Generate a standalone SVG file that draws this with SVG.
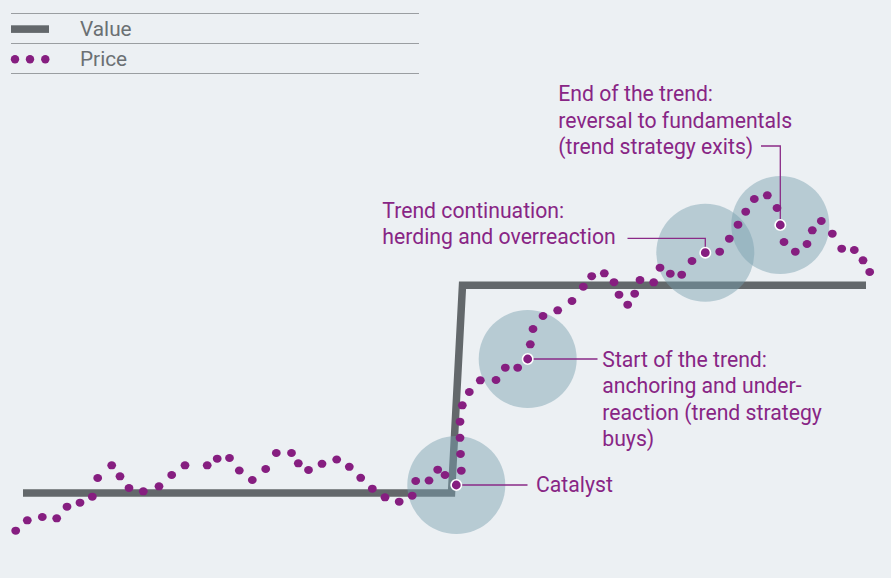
<svg xmlns="http://www.w3.org/2000/svg" width="891" height="578" viewBox="0 0 891 578">
<style>
.bg{fill:#ecf0f3}
.rule{stroke:#9a9ea1;stroke-width:1.2;fill:none}
.lg{font-family:Roboto,"Liberation Sans",sans-serif;font-size:20.8px;fill:#6b7073}
.lbl{font-family:Roboto,"Liberation Sans",sans-serif;font-size:21.2px;fill:#882585}
.value{stroke:#63686b;stroke-width:7.5;fill:none;stroke-linejoin:miter}
.halo{fill:#789faf;fill-opacity:0.46}
.dot{fill:#861e80}
.hl{fill:#861e80;stroke:#ffffff;stroke-width:1.6}
.lead{stroke:#8a2a87;stroke-width:1.3;fill:none}
</style>
<rect class="bg" x="0" y="0" width="891" height="578"/>
<g id="legend">
<line class="rule" x1="11" y1="13.5" x2="419" y2="13.5"/>
<line class="rule" x1="11" y1="43.5" x2="419" y2="43.5"/>
<line class="rule" x1="11" y1="73.5" x2="419" y2="73.5"/>
<rect x="11" y="25.3" width="38" height="7.6" fill="#63686b"/>
<text class="lg" x="80" y="35.7">Value</text>
<circle class="dot" cx="15" cy="59.3" r="4.2"/>
<circle class="dot" cx="30" cy="59.3" r="4.2"/>
<circle class="dot" cx="45.3" cy="59.3" r="4.2"/>
<text class="lg" x="80" y="65.7">Price</text>
</g>
<g id="value-line">
<polyline class="value" points="23,493 451.5,493 462.5,285.3 866,285.3"/>
</g>
<g id="halos">
<circle class="halo" cx="456.3" cy="485" r="49"/>
<circle class="halo" cx="527.7" cy="359" r="49"/>
<circle class="halo" cx="705.3" cy="252.7" r="49"/>
<circle class="halo" cx="780.3" cy="225" r="49"/>
</g>
<g id="connectors">
<polyline class="lead" points="456.3,485 527.5,485"/>
<polyline class="lead" points="527.7,359 597.5,359"/>
<polyline class="lead" points="705.3,252.7 705.3,238.3 627.5,238.3"/>
<polyline class="lead" points="780.3,225 780.3,146 761,146"/>
</g>
<g id="price">
<g id="price-dots">
<ellipse class="dot" cx="15.7" cy="530.7" rx="4.4" ry="4"/>
<ellipse class="dot" cx="27.3" cy="520.3" rx="4.4" ry="4"/>
<ellipse class="dot" cx="42.3" cy="517" rx="4.4" ry="4"/>
<ellipse class="dot" cx="56.7" cy="518.3" rx="4.4" ry="4"/>
<ellipse class="dot" cx="67" cy="506.7" rx="4.4" ry="4"/>
<ellipse class="dot" cx="80" cy="502.7" rx="4.4" ry="4"/>
<ellipse class="dot" cx="92.3" cy="496.7" rx="4.4" ry="4"/>
<ellipse class="dot" cx="97.7" cy="478" rx="4.4" ry="4"/>
<ellipse class="dot" cx="111.7" cy="465.3" rx="4.4" ry="4"/>
<ellipse class="dot" cx="120" cy="476.3" rx="4.4" ry="4"/>
<ellipse class="dot" cx="129" cy="488" rx="4.4" ry="4"/>
<ellipse class="dot" cx="143.3" cy="491.3" rx="4.4" ry="4"/>
<ellipse class="dot" cx="159" cy="486.3" rx="4.4" ry="4"/>
<ellipse class="dot" cx="171.7" cy="475" rx="4.4" ry="4"/>
<ellipse class="dot" cx="185" cy="465.3" rx="4.4" ry="4"/>
<ellipse class="dot" cx="207.2" cy="465.3" rx="4.4" ry="4"/>
<ellipse class="dot" cx="217.2" cy="458.7" rx="4.4" ry="4"/>
<ellipse class="dot" cx="229.5" cy="458" rx="4.4" ry="4"/>
<ellipse class="dot" cx="239.3" cy="470.5" rx="4.4" ry="4"/>
<ellipse class="dot" cx="252.3" cy="480" rx="4.4" ry="4"/>
<ellipse class="dot" cx="265.7" cy="469" rx="4.4" ry="4"/>
<ellipse class="dot" cx="276.3" cy="453" rx="4.4" ry="4"/>
<ellipse class="dot" cx="291.5" cy="453" rx="4.4" ry="4"/>
<ellipse class="dot" cx="298.3" cy="463.3" rx="4.4" ry="4"/>
<ellipse class="dot" cx="308.5" cy="470" rx="4.4" ry="4"/>
<ellipse class="dot" cx="322" cy="463.8" rx="4.4" ry="4"/>
<ellipse class="dot" cx="336.7" cy="459.5" rx="4.4" ry="4"/>
<ellipse class="dot" cx="349.3" cy="466.8" rx="4.4" ry="4"/>
<ellipse class="dot" cx="360.7" cy="477.8" rx="4.4" ry="4"/>
<ellipse class="dot" cx="372.3" cy="488.7" rx="4.4" ry="4"/>
<ellipse class="dot" cx="385" cy="497.3" rx="4.4" ry="4"/>
<ellipse class="dot" cx="399.2" cy="501.7" rx="4.4" ry="4"/>
<ellipse class="dot" cx="412.2" cy="495.7" rx="4.4" ry="4"/>
<ellipse class="dot" cx="415.7" cy="481" rx="4.4" ry="4"/>
<ellipse class="dot" cx="429" cy="480.5" rx="4.4" ry="4"/>
<ellipse class="dot" cx="437.7" cy="469.7" rx="4.4" ry="4"/>
<ellipse class="dot" cx="445" cy="475" rx="4.4" ry="4"/>
<ellipse class="dot" cx="461.3" cy="470.7" rx="4.4" ry="4"/>
<ellipse class="dot" cx="460.5" cy="454" rx="4.4" ry="4"/>
<ellipse class="dot" cx="460" cy="437.8" rx="4.4" ry="4"/>
<ellipse class="dot" cx="460" cy="421.7" rx="4.4" ry="4"/>
<ellipse class="dot" cx="462.3" cy="405.3" rx="4.4" ry="4"/>
<ellipse class="dot" cx="469.3" cy="392" rx="4.4" ry="4"/>
<ellipse class="dot" cx="480.3" cy="380.3" rx="4.4" ry="4"/>
<ellipse class="dot" cx="496" cy="380" rx="4.4" ry="4"/>
<ellipse class="dot" cx="505.3" cy="367.7" rx="4.4" ry="4"/>
<ellipse class="dot" cx="517.7" cy="367.7" rx="4.4" ry="4"/>
<ellipse class="dot" cx="530.3" cy="344.3" rx="4.4" ry="4"/>
<ellipse class="dot" cx="533" cy="329" rx="4.4" ry="4"/>
<ellipse class="dot" cx="543" cy="316" rx="4.4" ry="4"/>
<ellipse class="dot" cx="557.7" cy="310.3" rx="4.4" ry="4"/>
<ellipse class="dot" cx="572" cy="301" rx="4.4" ry="4"/>
<ellipse class="dot" cx="583.3" cy="286.7" rx="4.4" ry="4"/>
<ellipse class="dot" cx="591.7" cy="276.2" rx="4.4" ry="4"/>
<ellipse class="dot" cx="604.3" cy="273.3" rx="4.4" ry="4"/>
<ellipse class="dot" cx="614" cy="282.2" rx="4.4" ry="4"/>
<ellipse class="dot" cx="619" cy="294.7" rx="4.4" ry="4"/>
<ellipse class="dot" cx="627.7" cy="304.7" rx="4.4" ry="4"/>
<ellipse class="dot" cx="634.7" cy="293.7" rx="4.4" ry="4"/>
<ellipse class="dot" cx="640" cy="280" rx="4.4" ry="4"/>
<ellipse class="dot" cx="653.7" cy="282.3" rx="4.4" ry="4"/>
<ellipse class="dot" cx="660" cy="267.7" rx="4.4" ry="4"/>
<ellipse class="dot" cx="670.3" cy="273.7" rx="4.4" ry="4"/>
<ellipse class="dot" cx="681.7" cy="274.7" rx="4.4" ry="4"/>
<ellipse class="dot" cx="692" cy="261" rx="4.4" ry="4"/>
<ellipse class="dot" cx="719.7" cy="251.7" rx="4.4" ry="4"/>
<ellipse class="dot" cx="729.3" cy="238.7" rx="4.4" ry="4"/>
<ellipse class="dot" cx="738" cy="224.7" rx="4.4" ry="4"/>
<ellipse class="dot" cx="745.7" cy="211.7" rx="4.4" ry="4"/>
<ellipse class="dot" cx="754.3" cy="199" rx="4.4" ry="4"/>
<ellipse class="dot" cx="767.3" cy="195.3" rx="4.4" ry="4"/>
<ellipse class="dot" cx="777" cy="208" rx="4.4" ry="4"/>
<ellipse class="dot" cx="784" cy="242" rx="4.4" ry="4"/>
<ellipse class="dot" cx="795.3" cy="251.7" rx="4.4" ry="4"/>
<ellipse class="dot" cx="807" cy="244" rx="4.4" ry="4"/>
<ellipse class="dot" cx="812.3" cy="230.3" rx="4.4" ry="4"/>
<ellipse class="dot" cx="821.3" cy="221" rx="4.4" ry="4"/>
<ellipse class="dot" cx="832.3" cy="233.7" rx="4.4" ry="4"/>
<ellipse class="dot" cx="841.7" cy="248.7" rx="4.4" ry="4"/>
<ellipse class="dot" cx="854.3" cy="250" rx="4.4" ry="4"/>
<ellipse class="dot" cx="863" cy="260.3" rx="4.4" ry="4"/>
<ellipse class="dot" cx="869.7" cy="272" rx="4.4" ry="4"/>
</g>
</g>
<g id="catalyst">
<circle class="hl" cx="456.3" cy="485" r="5.2"/>
<text class="lbl" x="536" y="491.7">Catalyst</text>
</g>
<g id="start-of-trend">
<circle class="hl" cx="527.7" cy="359" r="5.2"/>
<text class="lbl" x="602.3" y="366.7">Start of the trend:</text>
<text class="lbl" x="602.3" y="393.2">anchoring and under-</text>
<text class="lbl" x="602.3" y="419.7">reaction (trend strategy</text>
<text class="lbl" x="602.3" y="446.2">buys)</text>
</g>
<g id="trend-continuation">
<circle class="hl" cx="705.3" cy="252.7" r="5.2"/>
<text class="lbl" x="382.3" y="217.5">Trend continuation:</text>
<text class="lbl" x="382.3" y="243.5">herding and overreaction</text>
</g>
<g id="end-of-trend">
<circle class="hl" cx="780.3" cy="225" r="5.2"/>
<text class="lbl" x="558.3" y="101">End of the trend:</text>
<text class="lbl" x="558.3" y="127.6">reversal to fundamentals</text>
<text class="lbl" x="558.3" y="154.2">(trend strategy exits)</text>
</g>
</svg>
